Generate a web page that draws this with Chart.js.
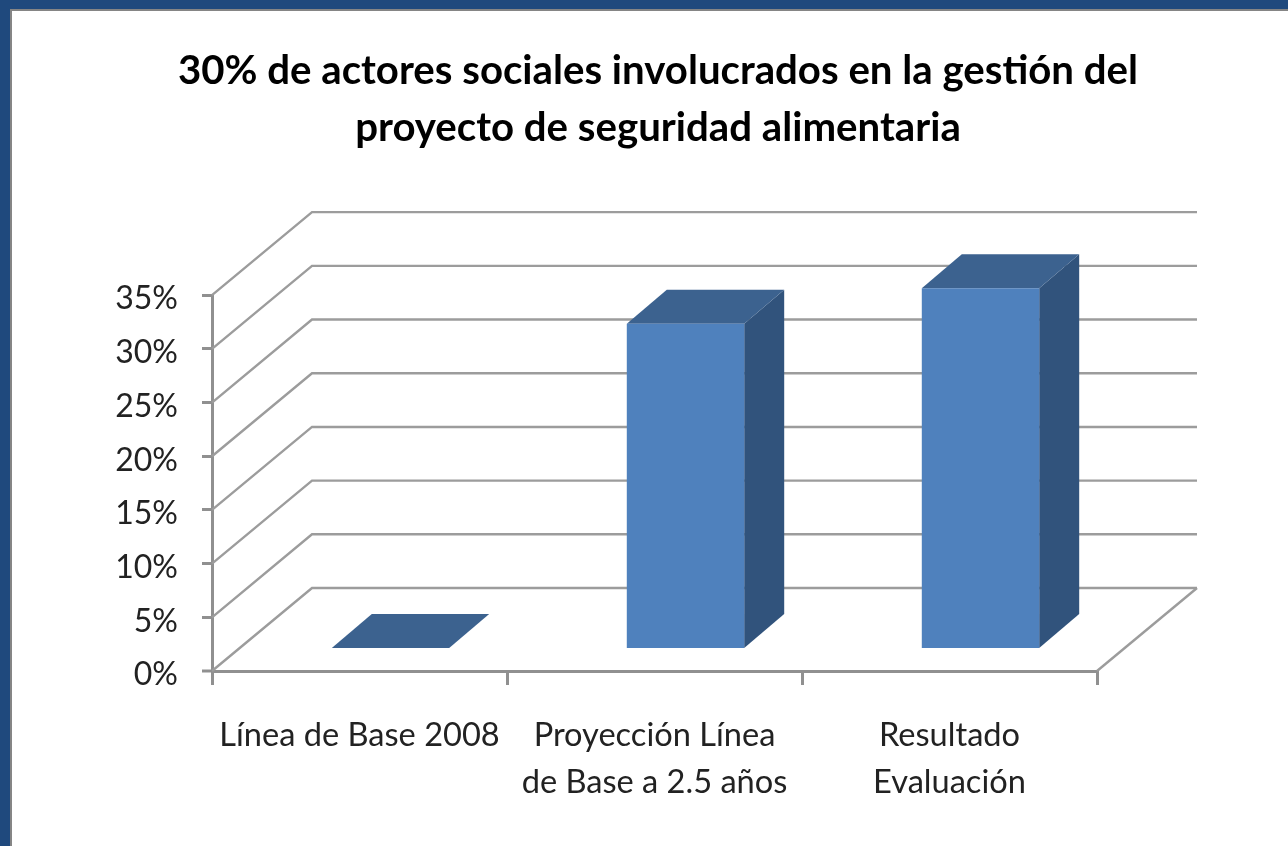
<!DOCTYPE html>
<html lang="es">
<head>
<meta charset="utf-8">
<title>Actores sociales</title>
<script src="https://cdn.jsdelivr.net/npm/chart.js@4"></script>
<style>
  html, body { margin: 0; padding: 0; background: #fff; overflow: hidden; }
  canvas { position: absolute; left: 0; top: 0; filter: blur(0.5px); }
  /* marco azul de arriba y de la izquierda */
  .edge { position: absolute; }
  #blueTop { left: 0; top: 0; width: 1288px; height: 9px; background: #1f497d; }
  #blueLeft { left: 0; top: 0; width: 10px; height: 846px; background: #1f497d; }
  #grayTop { left: 10px; top: 9px; width: 1278px; height: 2px; background: #858585; }
  #grayLeft { left: 10px; top: 9px; width: 2px; height: 837px; background: #858585; }
</style>
</head>
<body>
<div class="edge" id="blueTop"></div>
<div class="edge" id="blueLeft"></div>
<div class="edge" id="grayTop"></div>
<div class="edge" id="grayLeft"></div>
<canvas id="myChart" width="1288" height="846"></canvas>
<script>
const chartTitle = [
  '30% de actores sociales involucrados en la gestión del',
  'proyecto de seguridad alimentaria'
];
const categories = [
  'Línea de Base 2008',
  ['Proyección Línea', 'de Base a 2.5 años'],
  ['Resultado', 'Evaluación']
];
const values = [0, 30.2, 33.5];
const yTicks = ['0%', '5%', '10%', '15%', '20%', '25%', '30%', '35%'];

const gridColor = '#9c9c9c';
const axisColor = '#909090';
const textColor = '#222222';

// Profundidad del efecto 3D
const wallDx = 100, wallDy = -83;   // pared del fondo
const barDx = 40, barDy = -34;      // fondo de cada barra
const shiftX = 31, shiftY = -23;    // las barras van dentro del piso
const titleCenter = 658;

const fake3d = {
  id: 'fake3d',
  beforeDraw(chart) {
    // El titulo no esta centrado en la pagina
    const t = chart.titleBlock;
    t.left = titleCenter - t.width / 2;
    t.right = titleCenter + t.width / 2;
  },
  beforeDatasetsDraw(chart) {
    const { ctx, chartArea: a, scales: { y } } = chart;
    ctx.save();
    ctx.lineWidth = 2.4;
    ctx.strokeStyle = gridColor;
    y.ticks.forEach(t => {
      const py = y.getPixelForValue(t.value);
      ctx.beginPath();
      ctx.moveTo(a.left, py);
      ctx.lineTo(a.left + wallDx, py + wallDy);
      ctx.lineTo(a.right + wallDx, py + wallDy);
      ctx.stroke();
    });
    // Lado derecho del piso
    ctx.beginPath();
    ctx.moveTo(a.right, a.bottom);
    ctx.lineTo(a.right + wallDx, a.bottom + wallDy);
    ctx.stroke();
    // Marca del 0%, su grosor en la escala es 0 para que no mueva la base de las barras
    ctx.lineWidth = 3;
    ctx.strokeStyle = axisColor;
    ctx.beginPath();
    ctx.moveTo(a.left - 10, a.bottom);
    ctx.lineTo(a.left, a.bottom);
    ctx.stroke();
    ctx.restore();

    // Caras laterales y de arriba, antes del frente
    const bars = chart.getDatasetMeta(0).data;
    ctx.save();
    ctx.translate(shiftX, shiftY);
    bars.forEach(b => {
      const left = b.x - b.width / 2, right = b.x + b.width / 2;
      ctx.fillStyle = '#31537c';
      ctx.beginPath();
      ctx.moveTo(right, b.y);
      ctx.lineTo(right + barDx, b.y + barDy);
      ctx.lineTo(right + barDx, b.base + barDy);
      ctx.lineTo(right, b.base);
      ctx.closePath();
      ctx.fill();
      ctx.fillStyle = '#3c628f';
      ctx.beginPath();
      ctx.moveTo(left, b.y);
      ctx.lineTo(left + barDx, b.y + barDy);
      ctx.lineTo(right + barDx, b.y + barDy);
      ctx.lineTo(right, b.y);
      ctx.closePath();
      ctx.fill();
    });
    ctx.restore();

    ctx.save();
    ctx.translate(shiftX, shiftY);
  },
  afterDatasetsDraw(chart) {
    chart.ctx.restore();
  }
};

const ctx = document.getElementById('myChart').getContext('2d');

new Chart(ctx, {
  type: 'bar',
  data: {
    labels: categories,
    datasets: [{
      data: values,
      backgroundColor: '#4f81bd',
      borderWidth: 0,
      categoryPercentage: 1,
      barPercentage: 0.398,
      clip: false
    }]
  },
  options: {
    responsive: false,
    animation: false,
    layout: { padding: { right: 191 } },
    plugins: {
      legend: { display: false },
      tooltip: { enabled: false },
      title: {
        display: true,
        text: chartTitle,
        color: '#000000',
        font: { family: 'Lato', size: 40.2, weight: 'bold', lineHeight: 1.42 },
        padding: { top: 42, bottom: 139 }
      }
    },
    scales: {
      x: {
        afterFit(s) { s.height = 175; },
        border: { color: axisColor, width: 3 },
        grid: { drawOnChartArea: false, color: axisColor, lineWidth: 3, tickLength: 14 },
        ticks: {
          color: textColor,
          padding: 27,
          maxRotation: 0,
          autoSkip: false,
          font: { family: 'Lato', size: 32.6, lineHeight: 1.44 }
        }
      },
      y: {
        min: 0,
        max: 35,
        afterFit(s) { s.width = 212; },
        border: { color: axisColor, width: 3 },
        grid: {
          drawOnChartArea: false,
          color: axisColor,
          lineWidth: c => (c.tick && c.tick.value === 0 ? 0 : 3),
          tickLength: 10
        },
        ticks: {
          stepSize: 5,
          color: textColor,
          padding: 24,
          labelOffset: 4,
          font: { family: 'Lato', size: 32 },
          callback: (value, i) => yTicks[i]
        }
      }
    }
  },
  plugins: [fake3d]
});
</script>
</body>
</html>
